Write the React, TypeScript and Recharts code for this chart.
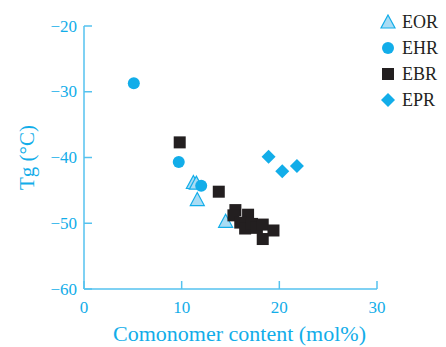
import { ScatterChart, Scatter, XAxis, YAxis, Label } from 'recharts';

// Glass transition temperature vs comonomer content, by copolymer type
const eorPoints = [
  { x: 11.2, y: -43.8 },
  { x: 11.5, y: -43.9 },
  { x: 11.6, y: -46.4 },
  { x: 14.5, y: -49.7 },
];
const ehrPoints = [
  { x: 5.1, y: -28.7 },
  { x: 9.7, y: -40.7 },
  { x: 12.0, y: -44.3 },
];
const ebrPoints = [
  { x: 9.8, y: -37.7 },
  { x: 13.8, y: -45.2 },
  { x: 15.5, y: -48.0 },
  { x: 15.3, y: -48.8 },
  { x: 16.8, y: -48.7 },
  { x: 16.0, y: -49.9 },
  { x: 16.5, y: -50.8 },
  { x: 17.2, y: -50.1 },
  { x: 17.7, y: -50.7 },
  { x: 18.3, y: -50.2 },
  { x: 18.3, y: -52.4 },
  { x: 19.4, y: -51.1 },
];
const eprPoints = [
  { x: 18.9, y: -39.9 },
  { x: 20.3, y: -42.1 },
  { x: 21.8, y: -41.3 },
];

const xTicks = [0, 10, 20, 30];
const yTicks = [-60, -50, -40, -30, -20];
const legendItems = ['EOR', 'EHR', 'EBR', 'EPR'];

const BLUE = '#12ADE9';
const AXIS = '#55C2EF';
const DARK = '#231F20';
const LIGHT = '#A9DCF4';
const FONT = '"Liberation Serif", "Times New Roman", serif';

const Triangle = ({ cx, cy }: any) => (
  <path
    d={`M${cx},${cy - 7} L${cx + 7},${cy + 6} L${cx - 7},${cy + 6} Z`}
    fill={LIGHT}
    stroke={BLUE}
    strokeWidth={1.2}
  />
);
const Dot = ({ cx, cy }: any) => <circle cx={cx} cy={cy} r={6} fill={BLUE} />;
const Square = ({ cx, cy }: any) => (
  <rect x={cx - 6} y={cy - 6} width={12} height={12} fill={DARK} />
);
const Diamond = ({ cx, cy }: any) => (
  <path
    d={`M${cx},${cy - 7} L${cx + 7},${cy} L${cx},${cy + 7} L${cx - 7},${cy} Z`}
    fill={BLUE}
  />
);

const shapes = [Triangle, Dot, Square, Diamond];

const fmt = (v: number) => String(v).replace('-', '\u2212');

const XTick = ({ x, y, payload }: any) => (
  <g>
    <line x1={x} y1={y} x2={x} y2={y - 8} stroke={AXIS} strokeWidth={1.5} />
    <text x={x} y={y + 18} textAnchor="middle" dominantBaseline="central" fill={BLUE} fontSize={17} fontFamily={FONT}>
      {fmt(payload.value)}
    </text>
  </g>
);

const YTick = ({ x, y, payload }: any) => (
  <g>
    <line x1={x} y1={y} x2={x + 8} y2={y} stroke={AXIS} strokeWidth={1.5} />
    <text x={x - 7} y={y} textAnchor="end" dominantBaseline="central" fill={BLUE} fontSize={17} fontFamily={FONT}>
      {fmt(payload.value)}
    </text>
  </g>
);

const XTitle = ({ viewBox }: any) => (
  <text
    x={viewBox.x + viewBox.width / 2 + 9}
    y={viewBox.y + 44}
    textAnchor="middle"
    dominantBaseline="central"
    fill={BLUE}
    fontSize={22}
    fontFamily={FONT}
  >
    Comonomer content (mol%)
  </text>
);

const YTitle = ({ viewBox }: any) => {
  const cx = viewBox.x + 27;
  const cy = viewBox.y + viewBox.height / 2;
  return (
    <text
      x={cx}
      y={cy}
      transform={`rotate(-90 ${cx} ${cy})`}
      textAnchor="middle"
      dominantBaseline="central"
      fill={BLUE}
      fontSize={21}
      fontFamily={FONT}
    >
      Tg (°C)
    </text>
  );
};

function LegendBox() {
  return (
    <div style={{ position: 'absolute', left: 380, top: 9, fontFamily: FONT, fontSize: 18, color: DARK }}>
      {legendItems.map((name, i) => {
        const Shape = shapes[i];
        return (
          <div key={name} style={{ display: 'flex', alignItems: 'center', height: 26 }}>
            <svg width={16} height={16} style={{ marginRight: 6 }}>
              <Shape cx={8} cy={8} />
            </svg>
            <span>{name}</span>
          </div>
        );
      })}
    </div>
  );
}

export default function App() {
  return (
    <div style={{ position: 'absolute', left: 0, top: 0, width: 446, height: 347, background: '#fff' }}>
      <ScatterChart width={446} height={347} margin={{ top: 26, right: 69, left: 0, bottom: 0 }}>
        <XAxis
          type="number"
          dataKey="x"
          domain={[0, 30]}
          ticks={xTicks}
          height={58}
          axisLine={{ stroke: AXIS, strokeWidth: 1.5 }}
          tickLine={false}
          tickSize={0}
          tickMargin={0}
          tick={<XTick />}
        >
          <Label content={<XTitle />} />
        </XAxis>
        <YAxis
          type="number"
          dataKey="y"
          domain={[-60, -20]}
          ticks={yTicks}
          width={84}
          axisLine={{ stroke: AXIS, strokeWidth: 1.5 }}
          tickLine={false}
          tickSize={0}
          tickMargin={0}
          tick={<YTick />}
        >
          <Label content={<YTitle />} />
        </YAxis>
        <Scatter name="EOR" data={eorPoints} shape={<Triangle />} isAnimationActive={false} />
        <Scatter name="EHR" data={ehrPoints} shape={<Dot />} isAnimationActive={false} />
        <Scatter name="EBR" data={ebrPoints} shape={<Square />} isAnimationActive={false} />
        <Scatter name="EPR" data={eprPoints} shape={<Diamond />} isAnimationActive={false} />
      </ScatterChart>
      <LegendBox />
    </div>
  );
}
